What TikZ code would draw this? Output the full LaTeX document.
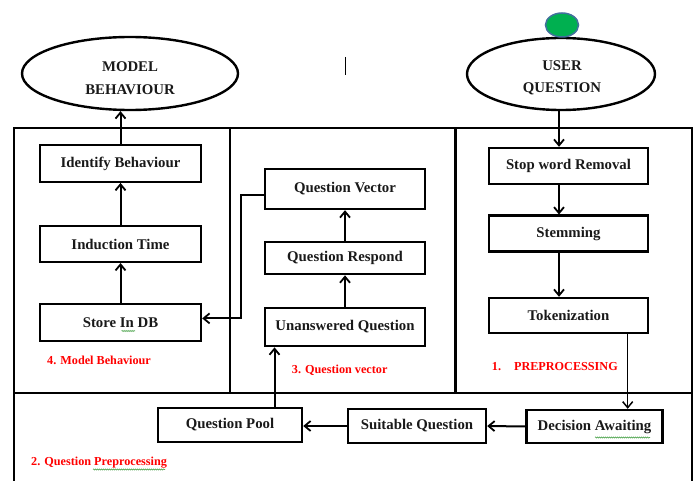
\documentclass[tikz,border=0pt]{standalone}
\usepackage{fontspec}
\setmainfont{Liberation Serif}
\usetikzlibrary{shapes.geometric,arrows.meta,calc,decorations.pathmorphing}
\definecolor{txtdark}{RGB}{25,25,25}
\definecolor{gfill}{RGB}{0,176,80}
\definecolor{gborder}{RGB}{65,113,156}
\definecolor{lblred}{RGB}{255,0,0}
\definecolor{spellgreen}{RGB}{90,170,90}
\tikzset{
  box/.style={draw=black,line width=2.4pt,rectangle,inner sep=0pt,text=txtdark,
    font=\fontsize{14.8}{16}\selectfont\bfseries},
  oval/.style={draw=black,line width=2.4pt,ellipse,inner sep=0pt,
    minimum width=216pt,minimum height=73pt},
  ovaltext/.style={inner sep=0pt,text=txtdark,align=center,font=\fontsize{14.8}{22.5}\selectfont\bfseries},
  arr/.style={draw=black,line width=2pt,-{Straight Barb[length=6pt,width=10pt,line width=1.8pt]}},
  thinarr/.style={draw=black,line width=1.1pt,-{Straight Barb[length=6pt,width=10pt,line width=1.5pt]}},
  frame/.style={draw=black,line width=2.4pt},
  lbl/.style={text=lblred,anchor=west,inner sep=0pt,font=\fontsize{12.2}{14}\selectfont\bfseries},
  spell/.style={draw=spellgreen,line width=0.6pt,decorate,decoration={snake,amplitude=0.6pt,segment length=2pt}}
}
\begin{document}
\begin{tikzpicture}[x=1pt,y=-1pt]
\useasboundingbox (0,0) rectangle (694,481);
% frames
\draw[frame] (14,481) -- (14,128) -- (692,128) -- (692,481);
\draw[frame] (14,392.7) -- (692,392.7);
\draw[frame] (230,128) -- (230,392.7);
\draw[frame] (455.5,128) -- (455.5,392.7);
% ellipses
\node[oval] (mb) at (130,73.5) {};
\node[ovaltext] (mbt) at (130,78) {MODEL\\BEHAVIOUR};
\node[oval,minimum width=188pt,minimum height=72pt] (uq) at (561,74) {};
\node[ovaltext] (uqt) at (562,78) {USER\\QUESTION};
\node[ellipse,draw=gborder,fill=gfill,line width=1.5pt,minimum width=33pt,minimum height=24pt,inner sep=0pt] (gc) at (562,25) {};
\draw[line width=1pt] (345,57) -- (345,75);
% left column
\node[box,minimum width=161pt,minimum height=36.7pt] (idb) at (120.5,163.4) {Identify Behaviour};
\node[box,minimum width=161pt,minimum height=35.7pt] (ind) at (120.5,244) {Induction Time};
\node[box,minimum width=161pt,minimum height=36.7pt] (sto) at (120.5,322.4) {Store In DB};
% middle column
\node[box,minimum width=160pt,minimum height=40pt] (qv) at (345,189) {Question Vector};
\node[box,minimum width=160pt,minimum height=32.3pt] (qr) at (345,258) {Question Respond};
\node[box,minimum width=160pt,minimum height=38.3pt] (ua) at (345,327) {Unanswered Question};
% right column
\node[box,minimum width=159pt,minimum height=36pt] (sw) at (568.5,166) {Stop word Removal};
\node[box,minimum width=159pt,minimum height=36pt] (st) at (568.5,233.7) {Stemming};
\node[box,minimum width=159pt,minimum height=35pt] (tk) at (568.5,315.5) {Tokenization};
% bottom row
\node[box,minimum width=144pt,minimum height=33.7pt] (qp) at (230,425) {Question Pool};
\node[box,minimum width=138pt,minimum height=34pt] (sq) at (417,426) {Suitable Question};
\node[box,minimum width=136pt,minimum height=33pt] (da) at (594.5,426.5) {Decision Awaiting};
% labels
\node[lbl] (l4) at (47,360.7) {4. Model Behaviour};
\node[lbl] (l3) at (291.7,370) {3. Question vector};
\node[lbl] (l1) at (491.7,366.7) {1.\hspace{13pt}PREPROCESSING};
\node[lbl] (l2) at (31,463) {2. Question Preprocessing};
% spell-check underlines
\draw[spell] (121.5,331) -- (135,331);
\draw[spell] (595,437.5) -- (650,437.5);
\draw[spell] (93,469.5) -- (165,469.5);
% helper coordinates
\coordinate (ax) at (559,0);
\coordinate (bx) at (274.5,0);
\coordinate (cx) at (627.7,0);
% connectors
\draw[arr] (idb.north) -- (idb.north |- mb.south);
\draw[arr] (ind.north) -- (idb.south);
\draw[arr] (sto.north) -- (ind.south);
\draw[arr] (ua.north) -- (qr.south);
\draw[arr] (qr.north) -- (qv.south);
\draw[arr] ([yshift=-6pt]qv.west) -- ++(-23.3,0) |- ([yshift=4pt]sto.east);
\draw[arr] (uq.south -| ax) -- (sw.north -| ax);
\draw[arr] (sw.south -| ax) -- (st.north -| ax);
\draw[arr] (st.south -| ax) -- (tk.north -| ax);
\draw[thinarr] (tk.south -| cx) -- (da.north -| cx);
\draw[arr] (da.west) -- (sq.east);
\draw[arr] (sq.west) -- (qp.east |- sq.west);
\draw[arr] (qp.north -| bx) -- (ua.south -| bx);
\end{tikzpicture}
\end{document}
